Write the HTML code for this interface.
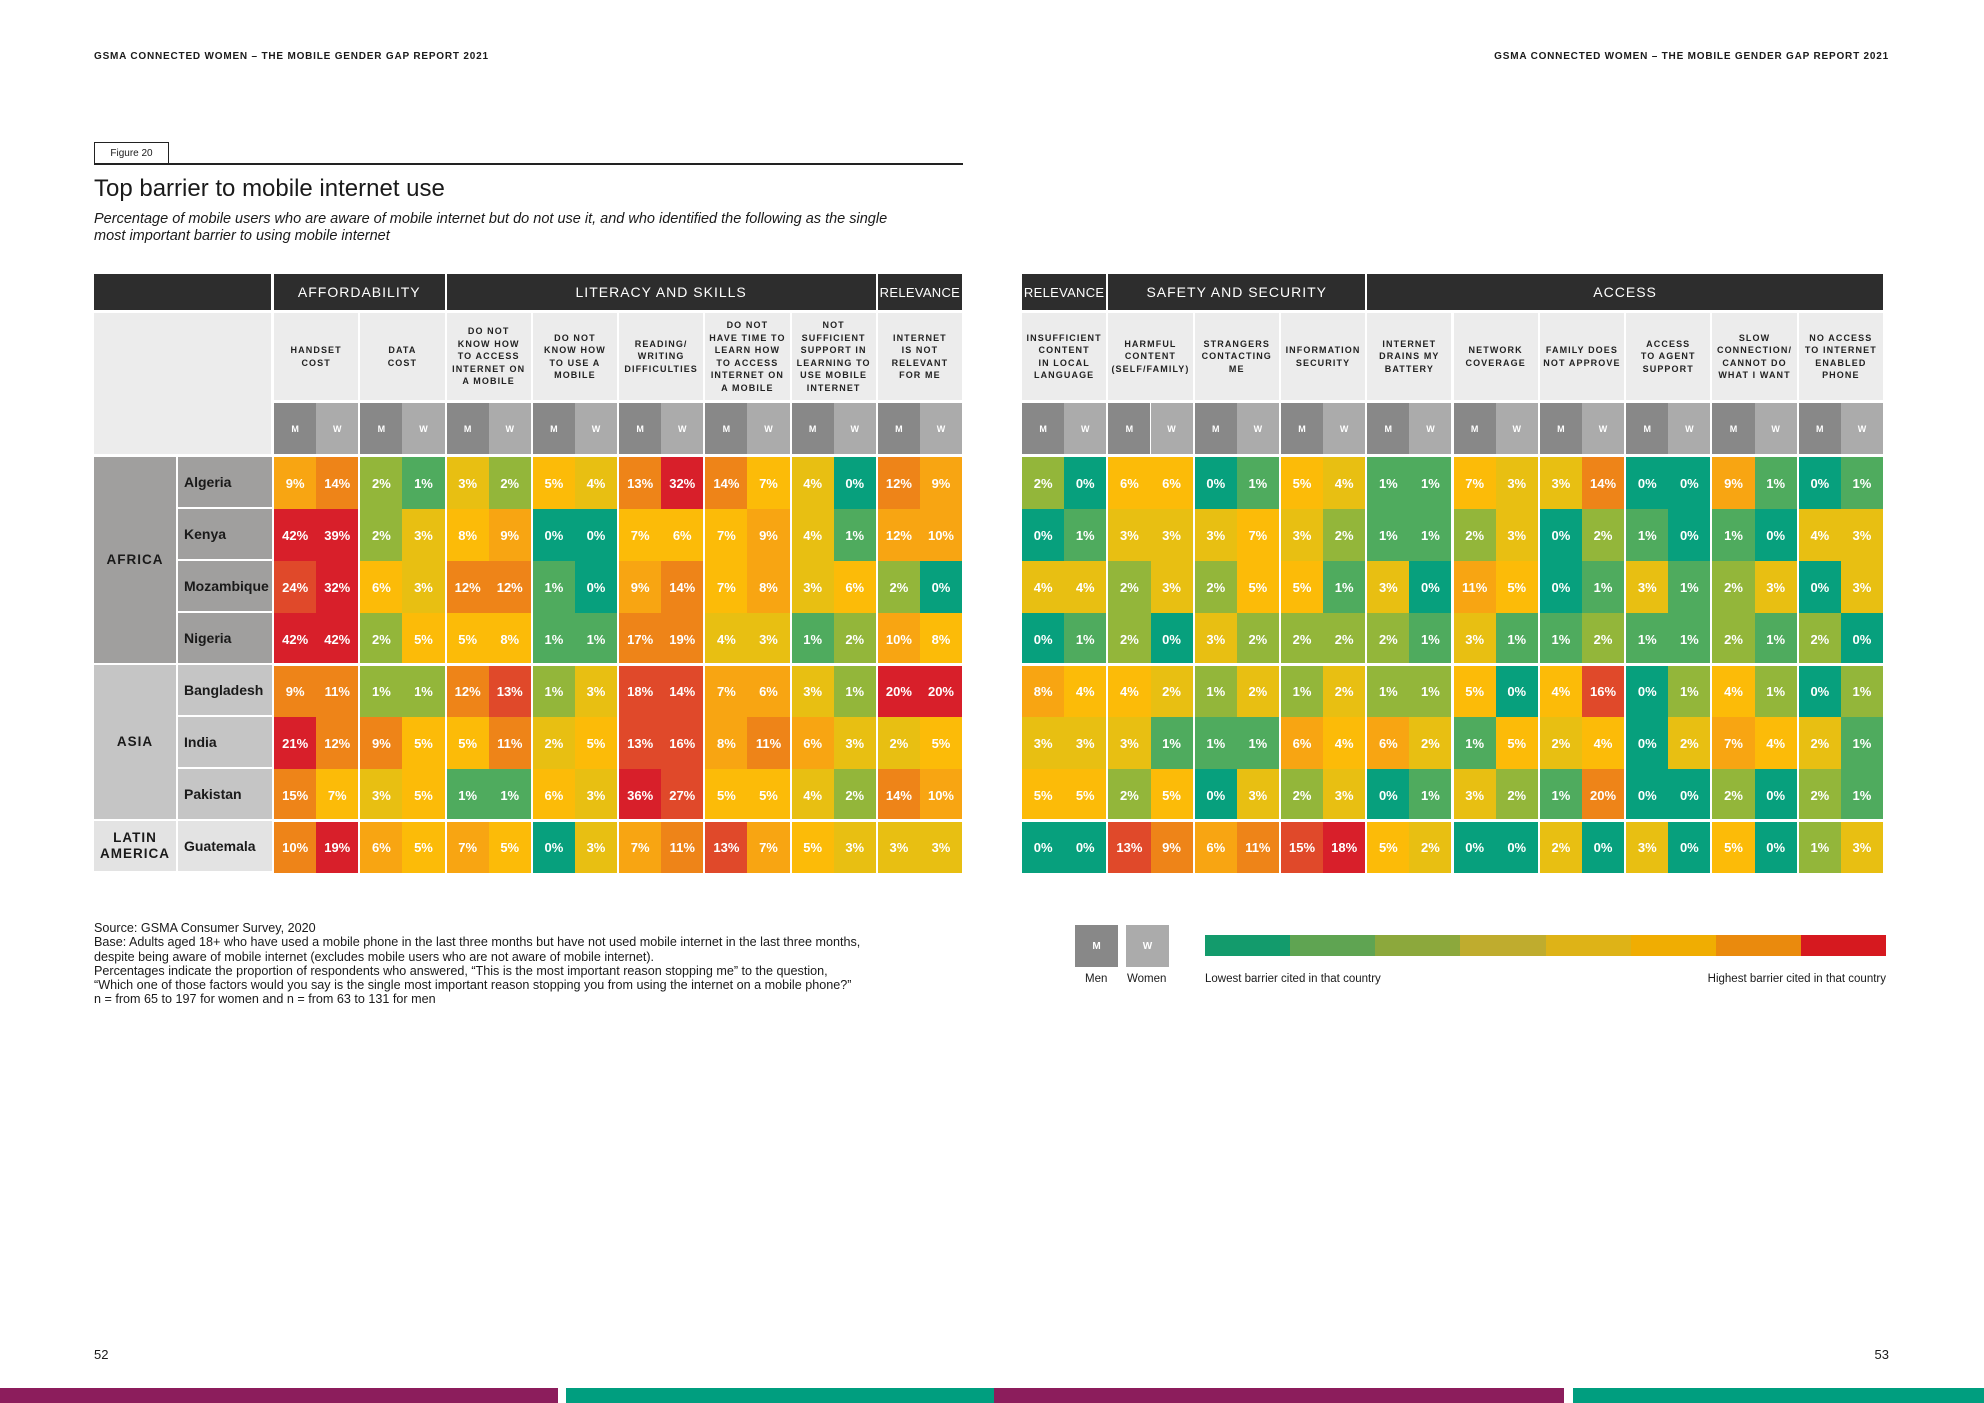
<!DOCTYPE html>
<html><head><meta charset="utf-8">
<style>
html,body{margin:0;padding:0;background:#fff;}
body{width:1984px;height:1403px;position:relative;overflow:hidden;font-family:"Liberation Sans",sans-serif;color:#1a1a1a;}
.abs{position:absolute;}
.grp{position:absolute;background:#2d2d2d;color:#fff;font-size:14px;letter-spacing:1px;display:flex;align-items:center;justify-content:center;height:36px;top:274px;white-space:nowrap;overflow:hidden;}
.sub{position:absolute;background:#ececec;top:313px;height:87px;display:flex;align-items:center;justify-content:center;text-align:center;font-size:9px;font-weight:bold;letter-spacing:1.1px;line-height:12.5px;color:#222;white-space:nowrap;}
.mw{position:absolute;top:403px;height:51px;display:flex;align-items:center;justify-content:center;color:#fff;font-size:9px;font-weight:bold;}
.cell{position:absolute;display:flex;align-items:center;justify-content:center;color:#fff;font-size:13px;font-weight:bold;}
.reg{position:absolute;display:flex;align-items:center;justify-content:center;text-align:center;font-weight:bold;font-size:13.5px;letter-spacing:1px;line-height:16px;}
.cty{position:absolute;display:flex;align-items:center;padding-left:6px;box-sizing:border-box;font-weight:bold;font-size:14px;}
</style></head><body>
<div class="abs" style="left:94px;top:51px;font-size:10px;font-weight:bold;letter-spacing:0.8px;">GSMA CONNECTED WOMEN – THE MOBILE GENDER GAP REPORT 2021</div>
<div class="abs" style="right:95px;top:51px;font-size:10px;font-weight:bold;letter-spacing:0.8px;">GSMA CONNECTED WOMEN – THE MOBILE GENDER GAP REPORT 2021</div>
<div class="abs" style="left:94px;top:142px;width:75px;height:21px;border:1px solid #222;border-bottom:none;font-size:10px;display:flex;align-items:center;justify-content:center;box-sizing:border-box;">Figure 20</div>
<div class="abs" style="left:94px;top:163px;width:869px;height:1.5px;background:#222;"></div>
<div class="abs" style="left:94px;top:175px;font-size:24px;">Top barrier to mobile internet use</div>
<div class="abs" style="left:94px;top:211px;font-size:14.5px;font-style:italic;line-height:17px;width:900px;">Percentage of mobile users who are aware of mobile internet but do not use it, and who identified the following as the single<br>most important barrier to using mobile internet</div>

<div id="chart"></div>

<div class="abs" style="left:94px;top:921px;font-size:12.6px;line-height:14.3px;white-space:nowrap;">Source: GSMA Consumer Survey, 2020<br>Base: Adults aged 18+ who have used a mobile phone in the last three months but have not used mobile internet in the last three months,<br>despite being aware of mobile internet (excludes mobile users who are not aware of mobile internet).<br>Percentages indicate the proportion of respondents who answered, “This is the most important reason stopping me” to the question,<br>“Which one of those factors would you say is the single most important reason stopping you from using the internet on a mobile phone?”<br>n = from 65 to 197 for women and n = from 63 to 131 for men</div>

<div class="abs" style="left:1075px;top:925px;width:43px;height:42px;background:#888;color:#fff;font-size:10px;font-weight:bold;display:flex;align-items:center;justify-content:center;">M</div>
<div class="abs" style="left:1126px;top:925px;width:43px;height:42px;background:#ababab;color:#fff;font-size:10px;font-weight:bold;display:flex;align-items:center;justify-content:center;">W</div>
<div class="abs" style="left:1085px;top:973px;font-size:11.5px;">Men</div>
<div class="abs" style="left:1127px;top:973px;font-size:11.5px;">Women</div>
<div id="scale" class="abs" style="left:1205px;top:935px;width:681px;height:21px;display:flex;"></div>
<div class="abs" style="left:1205px;top:973px;font-size:11.5px;">Lowest barrier cited in that country</div>
<div class="abs" style="right:98px;top:973px;font-size:11.5px;">Highest barrier cited in that country</div>

<div class="abs" style="left:94px;top:1347px;font-size:13px;">52</div>
<div class="abs" style="right:95px;top:1347px;font-size:13px;">53</div>
<div class="abs" style="left:0;top:1388px;width:558px;height:15px;background:#8c1d5c;"></div>
<div class="abs" style="left:566px;top:1388px;width:428px;height:15px;background:#009e7f;"></div>
<div class="abs" style="left:994px;top:1388px;width:570px;height:15px;background:#8c1d5c;"></div>
<div class="abs" style="left:1573px;top:1388px;width:411px;height:15px;background:#009e7f;"></div>

<script>
const countries = ["Algeria","Kenya","Mozambique","Nigeria","Bangladesh","India","Pakistan","Guatemala"];
const regions = ["AFRICA","ASIA","LATIN<br>AMERICA"];
const regionRows = [4,3,1];
const categories = ["HANDSET|COST","DATA|COST","DO NOT|KNOW HOW|TO ACCESS|INTERNET ON|A MOBILE","DO NOT|KNOW HOW|TO USE A|MOBILE","READING/|WRITING|DIFFICULTIES","DO NOT|HAVE TIME TO|LEARN HOW|TO ACCESS|INTERNET ON|A MOBILE","NOT|SUFFICIENT|SUPPORT IN|LEARNING TO|USE MOBILE|INTERNET","INTERNET|IS NOT|RELEVANT|FOR ME","INSUFFICIENT|CONTENT|IN LOCAL|LANGUAGE","HARMFUL|CONTENT|(SELF/FAMILY)","STRANGERS|CONTACTING|ME","INFORMATION|SECURITY","INTERNET|DRAINS MY|BATTERY","NETWORK|COVERAGE","FAMILY DOES|NOT APPROVE","ACCESS|TO AGENT|SUPPORT","SLOW|CONNECTION/|CANNOT DO|WHAT I WANT","NO ACCESS|TO INTERNET|ENABLED|PHONE"];
const groups = ["AFFORDABILITY","LITERACY AND SKILLS","RELEVANCE","RELEVANCE","SAFETY AND SECURITY","ACCESS"];
const groupSpans = [2,5,1,1,3,6];
const menValues = [
 [9,2,3,5,13,14,4,12, 2,6,0,5,1,7,3,0,9,0],
 [42,2,8,0,7,7,4,12, 0,3,3,3,1,2,0,1,1,4],
 [24,6,12,1,9,7,3,2, 4,2,2,5,3,11,0,3,2,0],
 [42,2,5,1,17,4,1,10, 0,2,3,2,2,3,1,1,2,2],
 [9,1,12,1,18,7,3,20, 8,4,1,1,1,5,4,0,4,0],
 [21,9,5,2,13,8,6,2, 3,3,1,6,6,1,2,0,7,2],
 [15,3,1,6,36,5,4,14, 5,2,0,2,0,3,1,0,2,2],
 [10,6,7,0,7,13,5,3, 0,13,6,15,5,0,2,3,5,1]
];
const womenValues = [
 [14,1,2,4,32,7,0,9, 0,6,1,4,1,3,14,0,1,1],
 [39,3,9,0,6,9,1,10, 1,3,7,2,1,3,2,0,0,3],
 [32,3,12,0,14,8,6,0, 4,3,5,1,0,5,1,1,3,3],
 [42,5,8,1,19,3,2,8, 1,0,2,2,1,1,2,1,1,0],
 [11,1,13,3,14,6,1,20, 4,2,2,2,1,0,16,1,1,1],
 [12,5,11,5,16,11,3,5, 3,1,1,4,2,5,4,2,4,1],
 [7,5,1,3,27,5,2,10, 5,5,3,3,1,2,20,0,0,1],
 [19,5,5,3,11,7,3,3, 0,9,11,18,2,0,0,0,0,3]
];
const palette = ['#07a07d','#4fab5e','#93b63a','#e8bf12','#fcbb08','#f8a512','#ee8418','#e0492a','#d81f2a'];
const legendColors = ['#139b6c','#5fa452','#8ca83c','#bfac2e','#deb317','#f0ad02','#ea8a0d','#d6191f'];

const chart = document.getElementById('chart');
const TOP = 457, ROWH = 52;
function catX(i){ return i < 8 ? 274 + i*86.25 : 1022 + (i-8)*86.3; }
function rowY(r){ return TOP + r*ROWH; }
function colorFor(v, row){
  const all = menValues[row].concat(womenValues[row]);
  const mx = Math.max.apply(null, all);
  const t = Math.log(1+v)/Math.log(1+mx);
  return palette[Math.min(8, Math.floor(t*8+0.2))];
}
function mk(cls, css, html){
  const d = document.createElement('div');
  d.className = cls; d.style.cssText = css; if (html !== undefined) d.innerHTML = html;
  chart.appendChild(d); return d;
}
let gi = 0;
groups.forEach((g, k) => {
  const s = gi, e = gi + groupSpans[k] - 1;
  const x0 = catX(s), x1 = catX(e) + 84.3;
  const extra = groupSpans[k] === 1 ? 'font-size:13px;letter-spacing:0.3px;' : '';
  const el = mk('grp', 'left:'+x0+'px;width:'+(x1-x0)+'px;'+extra, g);
  
  
  gi += groupSpans[k];
});
const corner = mk('grp', 'left:94px;width:177px;', '');


const blank = mk('abs', 'left:94px;top:313px;width:177px;height:141px;background:#ececec;', '');


categories.forEach((c, i) => {
  const x = catX(i);
  const s = mk('sub', 'left:'+x+'px;width:84.3px;', c.split('|').join('<br>'));
  
  
  const m = mk('mw', 'left:'+x+'px;width:42.2px;background:#888;', 'M');
  
  
  const w = mk('mw', 'left:'+(x+42.2)+'px;width:42.1px;background:#ababab;', 'W');
  
  
  countries.forEach((ct, r) => {
    const y = rowY(r);
    const mv = menValues[r][i], wv = womenValues[r][i];
    const a = mk('cell', 'left:'+x+'px;top:'+y+'px;width:42.3px;height:'+ROWH+'px;background:'+colorFor(mv, r)+';', mv+'%');
    
    
    const b = mk('cell', 'left:'+(x+42.2)+'px;top:'+y+'px;width:42.1px;height:'+ROWH+'px;background:'+colorFor(wv, r)+';', wv+'%');
    
    
  });
});
const regBg = ['#a09f9e','#c5c5c5','#e3e3e3'];
let rr = 0;
regions.forEach((rg, k) => {
  const y0 = rowY(rr), h = regionRows[k]*ROWH - 2;
  const el = mk('reg', 'left:94px;top:'+y0+'px;width:82px;height:'+h+'px;background:'+regBg[k]+';', rg);
  
  
  for (let j = 0; j < regionRows[k]; j++) {
    const r = rr + j;
    const c = mk('cty', 'left:178px;top:'+rowY(r)+'px;width:94px;height:'+(ROWH-2.5)+'px;background:'+regBg[k]+';', countries[r]);
    
    
  }
  rr += regionRows[k];
  if (k < 2) {
    [[94,963],[1022,1885]].forEach(p => {
      const ln = mk('abs', 'left:'+p[0]+'px;top:'+(rowY(rr)-2)+'px;width:'+(p[1]-p[0])+'px;height:3px;background:#fff;', '');
      
      
    });
  }
});
categories.forEach((c, i) => {
  const v = mk('abs', 'left:'+(catX(i)+84.3)+'px;top:457px;width:2px;height:416px;background:#fff;', '');
  
  
});
const sc = document.getElementById('scale');
legendColors.forEach(col => {
  const s = document.createElement('div');
  s.style.cssText = 'flex:1;background:'+col+';';
  
  
  sc.appendChild(s);
});
</script>
</body></html>
